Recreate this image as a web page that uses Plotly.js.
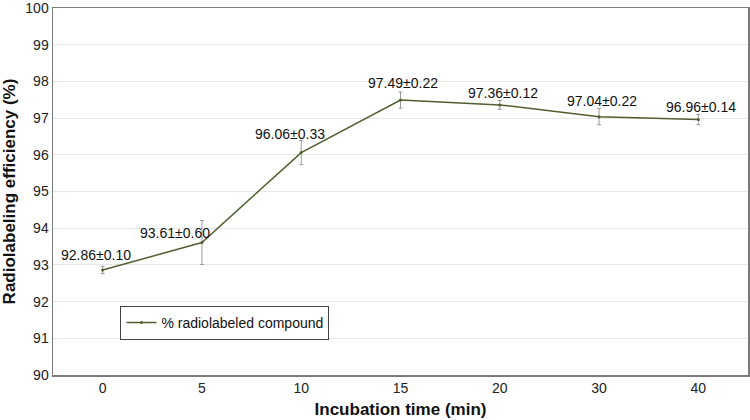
<!DOCTYPE html>
<html>
<head>
<meta charset="utf-8">
<script src="https://cdn.plot.ly/plotly-3.0.1.min.js"></script>
<style>html,body{margin:0;padding:0;background:#fff;}#chart{width:750px;height:420px;}</style>
</head>
<body>
<div id="chart"></div>
<script>
var categories = ["0", "5", "10", "15", "20", "30", "40"];
var efficiency = [92.86, 93.61, 96.06, 97.49, 97.36, 97.04, 96.96];
var sd = [0.10, 0.60, 0.33, 0.22, 0.12, 0.22, 0.14];
var yTicks = [90, 91, 92, 93, 94, 95, 96, 97, 98, 99, 100];

// label offsets (pixels) so labels sit above each point
var labelXShift = [-7, -27, -11, 2, 3, 3, 3];
var labelYShift = [15, 10, 19, 17, 12, 16, 13];

var trace = {
  x: categories,
  y: efficiency,
  type: 'scatter',
  mode: 'lines+markers',
  name: '% radiolabeled compound',
  line: {color: '#4f5f2e', width: 1.5},
  marker: {color: '#4f5f2e', size: 3},
  error_y: {type: 'data', array: sd, visible: true, color: '#999999', thickness: 1, width: 2}
};

var annotations = categories.map(function (c, i) {
  return {
    x: i, y: efficiency[i], xref: 'x', yref: 'y',
    text: efficiency[i].toFixed(2) + '±' + sd[i].toFixed(2),
    showarrow: false, xshift: labelXShift[i], yshift: labelYShift[i],
    font: {family: 'Liberation Sans, Arial, sans-serif', size: 14, color: '#111'}
  };
});

var layout = {
  width: 750, height: 420,
  margin: {l: 53, r: 2, t: 8, b: 45},
  paper_bgcolor: '#fff', plot_bgcolor: '#fff',
  font: {family: 'Liberation Sans, Arial, sans-serif', size: 14, color: '#222'},
  showlegend: true,
  legend: {
    x: 0.097, y: 0.188, xanchor: 'left', yanchor: 'top',
    bordercolor: '#444', borderwidth: 1, bgcolor: '#fff',
    font: {size: 14, color: '#111'}
  },
  xaxis: {
    type: 'category', range: [-0.5, 6.5],
    showgrid: false, showline: true, mirror: true, linecolor: '#7a7a7a', linewidth: 1.5,
    ticks: '', tickfont: {size: 14, color: '#222'},
    title: {text: 'Incubation time (min)', font: {size: 17, color: '#111', weight: 'bold'}, standoff: 8}
  },
  yaxis: {
    range: [90, 100], tickvals: yTicks, ticklabeloverflow: 'allow',
    showgrid: true, gridcolor: '#e6e6e6', gridwidth: 1,
    showline: true, mirror: true, linecolor: '#7a7a7a', linewidth: 1.5,
    ticks: '', zeroline: false, tickfont: {size: 14, color: '#222'},
    title: {text: 'Radiolabeling efficiency (%)', font: {size: 17, color: '#111', weight: 'bold'}, standoff: 10}
  },
  annotations: annotations
};

Plotly.newPlot('chart', [trace], layout, {displayModeBar: false, staticPlot: true});
</script>
</body>
</html>
